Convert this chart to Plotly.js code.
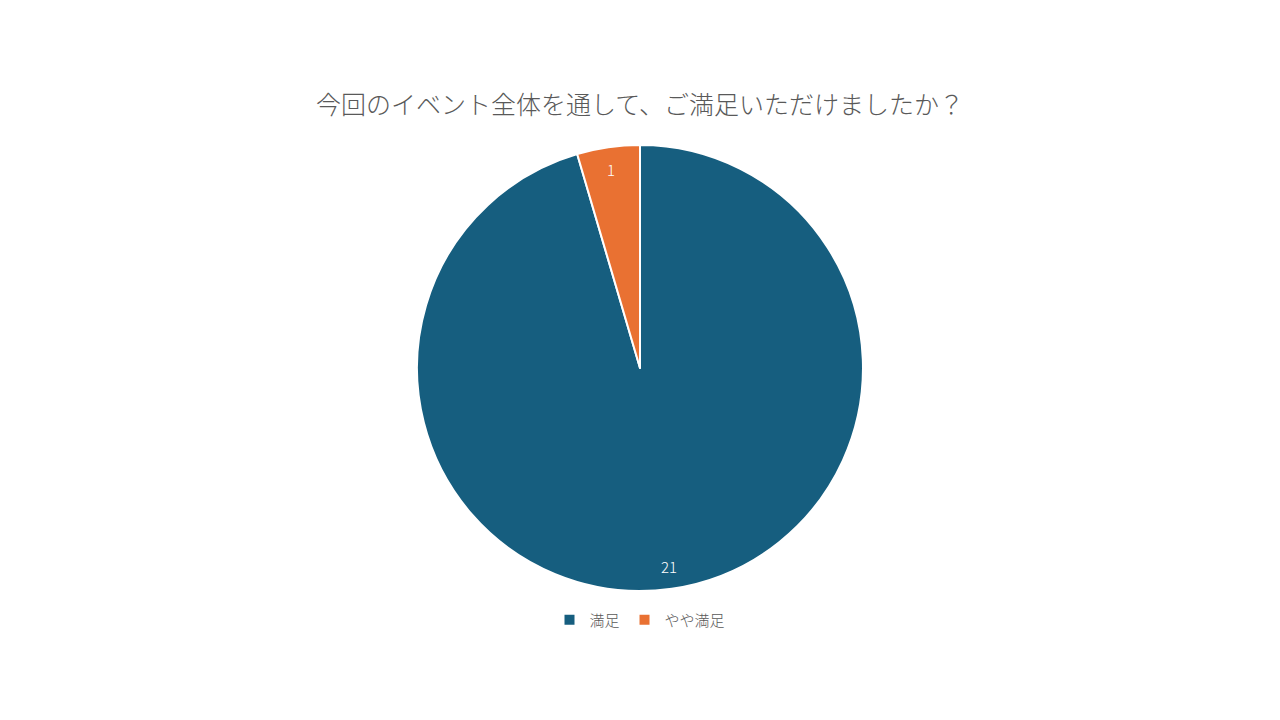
<!DOCTYPE html>
<html>
<head>
<meta charset="utf-8">
<script src="https://cdn.plot.ly/plotly-3.0.1.min.js"></script>
<style>
  html, body { margin: 0; padding: 0; background: #fff; }
  #chart { width: 1280px; height: 720px; }
</style>
</head>
<body>
<div id="chart"></div>
<script>
const categories = ["満足", "やや満足"];
const counts = [21, 1];
const colors = ["#165E7F", "#E97132"];

const font = '"Noto Sans CJK JP", "Noto Sans", sans-serif';

const W = 1280, H = 720;
const pieDomain = { x: [0.3258, 0.6742], y: [0.1792, 0.7986] };

// labels sit near the outer edge of each slice (inside end), at 0.9 of radius
let total = counts.reduce((a, b) => a + b, 0);
let radiusPx = (pieDomain.x[1] - pieDomain.x[0]) * W / 2;
let cx = (pieDomain.x[0] + pieDomain.x[1]) / 2;
let cy = (pieDomain.y[0] + pieDomain.y[1]) / 2;
let acc = 0;
let labelNotes = counts.map((v) => {
    let mid = (acc + v / 2) / total * 2 * Math.PI;
    acc += v;
    let r = radiusPx * 0.9;
    return {
        x: cx + Math.sin(mid) * r / W,
        y: cy + Math.cos(mid) * r / H,
        xref: "paper", yref: "paper",
        xanchor: "center", yanchor: "middle",
        text: String(v),
        showarrow: false,
        font: { family: font, size: 15, color: "#ffffff", weight: 300 }
    };
});

let trace = {
    type: "pie",
    labels: categories,
    values: counts,
    sort: false,
    direction: "clockwise",
    rotation: 0,
    marker: { colors: colors, line: { color: "#ffffff", width: 2 } },
    textinfo: "none",
    hoverinfo: "label+value",
    domain: pieDomain
};

let layout = {
    width: W,
    height: H,
    margin: { l: 0, r: 0, t: 0, b: 0 },
    paper_bgcolor: "#ffffff",
    font: { family: font, color: "#595959" },
    title: {
        text: "今回のイベント全体を通して、ご満足いただけましたか？",
        font: { family: font, size: 25, color: "#595959", weight: 300 },
        x: 0.5, xanchor: "center",
        y: 0.854, yanchor: "middle"
    },
    annotations: labelNotes,
    showlegend: true,
    legend: {
        orientation: "h",
        x: 0.5, xanchor: "center",
        y: 0.139, yanchor: "middle",
        font: { family: font, size: 15, color: "#595959", weight: 300 }
    }
};

Plotly.newPlot("chart", [trace], layout, { displayModeBar: false });
</script>
</body>
</html>
